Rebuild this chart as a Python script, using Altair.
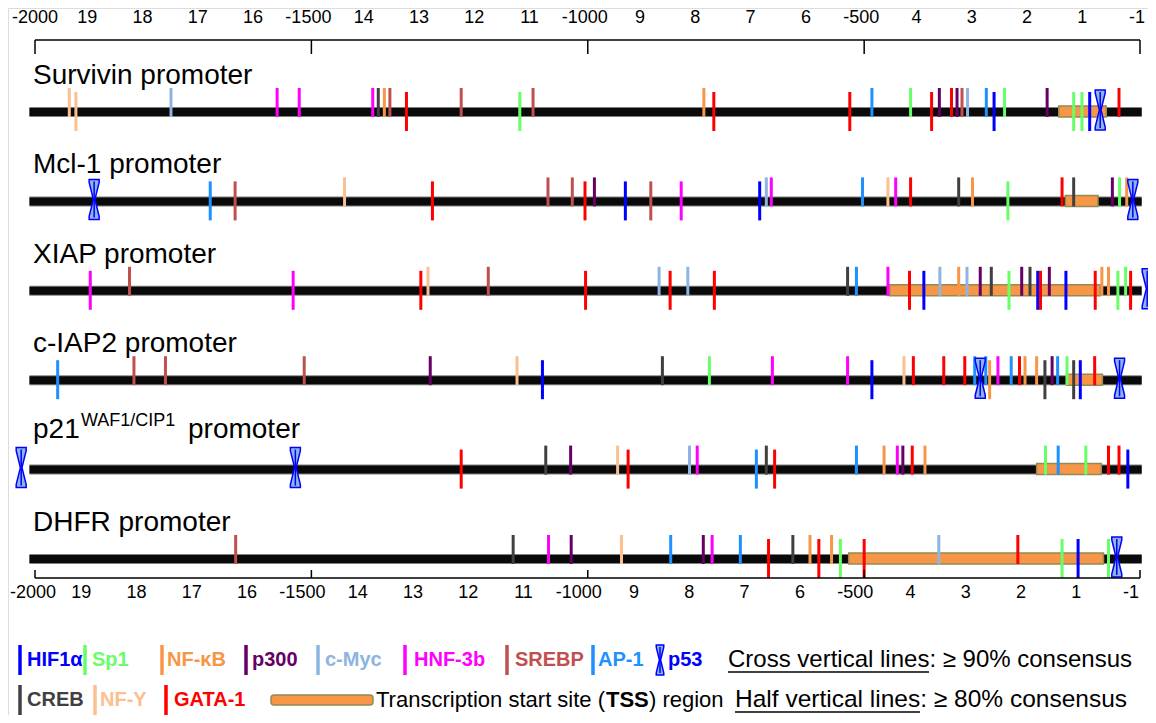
import altair as alt
import pandas as pd

# ---------------- data ----------------
TF_NAMES = ["HIF1α", "Sp1", "NF-κB", "p300", "c-Myc", "HNF-3b", "SREBP", "AP-1", "CREB", "NF-Y", "GATA-1"]
TF_COLORS = ["#0000FF", "#66FF66", "#F79646", "#660066", "#8DB4E2", "#FF00FF", "#C0504D", "#1E90FF", "#404040", "#FAC090", "#FF0000"]

PROMOTERS = ["Survivin", "Mcl-1", "XIAP", "c-IAP2", "p21", "DHFR"]
TITLES = ["Survivin promoter", "Mcl-1 promoter", "XIAP promoter", "c-IAP2 promoter", "", "DHFR promoter"]

# (factor, position bp, C = cross line >=90%, H = half line >=80%)
SURVIVIN_SITES = [("NF-Y", -1938, "H"), ("NF-Y", -1926, "C"), ("c-Myc", -1754, "H"), ("HNF-3b", -1562, "H"),
                  ("HNF-3b", -1522, "H"), ("HNF-3b", -1389, "H"), ("CREB", -1379, "H"), ("NF-κB", -1368, "H"),
                  ("SREBP", -1358, "H"), ("GATA-1", -1328, "C"), ("SREBP", -1229, "H"), ("Sp1", -1123, "C"),
                  ("SREBP", -1099, "H"), ("NF-κB", -790, "H"), ("GATA-1", -772, "C"), ("GATA-1", -526, "C"),
                  ("AP-1", -486, "H"), ("Sp1", -416, "H"), ("GATA-1", -378, "C"), ("p300", -364, "H"),
                  ("GATA-1", -342, "H"), ("p300", -332, "H"), ("SREBP", -323, "H"), ("c-Myc", -313, "H"),
                  ("AP-1", -279, "H"), ("HIF1α", -265, "C"), ("Sp1", -246, "H"), ("p300", -169, "H"),
                  ("Sp1", -121, "C"), ("Sp1", -106, "C"), ("HIF1α", -92, "C"), ("GATA-1", -39, "H")]
SURVIVIN_P53 = [-73]
SURVIVIN_TSS = (-148, -62)

MCL1_SITES = [("AP-1", -1683, "C"), ("SREBP", -1638, "C"), ("NF-Y", -1440, "H"), ("GATA-1", -1281, "C"),
              ("SREBP", -1072, "H"), ("SREBP", -1028, "H"), ("GATA-1", -1005, "C"), ("p300", -988, "H"),
              ("HIF1α", -932, "C"), ("SREBP", -886, "C"), ("HNF-3b", -831, "C"), ("HIF1α", -689, "C"),
              ("c-Myc", -677, "H"), ("HNF-3b", -668, "H"), ("AP-1", -503, "H"), ("NF-Y", -457, "H"),
              ("HNF-3b", -443, "H"), ("GATA-1", -416, "H"), ("CREB", -329, "H"), ("NF-κB", -304, "H"),
              ("Sp1", -240, "C"), ("GATA-1", -142, "H"), ("CREB", -121, "H"), ("p300", -51, "H"),
              ("Sp1", -38, "H"), ("NF-κB", -25, "H")]
MCL1_P53 = [-1893, -14]
MCL1_TSS = (-136, -77)

XIAP_SITES = [("HNF-3b", -1900, "C"), ("SREBP", -1829, "H"), ("HNF-3b", -1533, "C"), ("GATA-1", -1302, "C"),
              ("NF-Y", -1289, "H"), ("SREBP", -1180, "H"), ("GATA-1", -1004, "C"), ("c-Myc", -871, "H"),
              ("GATA-1", -851, "C"), ("c-Myc", -819, "H"), ("GATA-1", -771, "C"), ("CREB", -530, "H"),
              ("AP-1", -514, "H"), ("HNF-3b", -457, "H"), ("GATA-1", -418, "C"), ("HIF1α", -392, "C"),
              ("c-Myc", -363, "H"), ("NF-κB", -329, "H"), ("c-Myc", -314, "H"), ("p300", -290, "H"),
              ("CREB", -270, "H"), ("Sp1", -238, "C"), ("p300", -215, "H"), ("CREB", -200, "H"),
              ("HIF1α", -186, "C"), ("GATA-1", -181, "C"), ("p300", -165, "H"), ("HIF1α", -135, "C"),
              ("GATA-1", -82, "C"), ("NF-κB", -70, "H"), ("NF-κB", -58, "H"), ("Sp1", -41, "C"),
              ("Sp1", -27, "H"), ("GATA-1", -18, "C")]
XIAP_P53 = [12]
XIAP_TSS = (-454, -73)

CIAP2_SITES = [("AP-1", -1959, "C"), ("SREBP", -1821, "H"), ("SREBP", -1764, "H"), ("SREBP", -1513, "H"),
               ("p300", -1285, "H"), ("NF-Y", -1128, "H"), ("HIF1α", -1082, "C"), ("CREB", -865, "H"),
               ("Sp1", -780, "H"), ("HNF-3b", -666, "H"), ("HNF-3b", -530, "H"), ("HIF1α", -486, "C"),
               ("NF-Y", -428, "H"), ("GATA-1", -411, "H"), ("GATA-1", -356, "H"), ("GATA-1", -318, "H"),
               ("AP-1", -300, "H"), ("AP-1", -280, "H"), ("NF-κB", -273, "C"), ("HNF-3b", -258, "H"),
               ("AP-1", -234, "H"), ("GATA-1", -219, "H"), ("NF-κB", -209, "H"), ("NF-κB", -188, "H"),
               ("CREB", -173, "C"), ("p300", -160, "H"), ("AP-1", -150, "H"), ("Sp1", -133, "H"),
               ("CREB", -121, "C"), ("HIF1α", -109, "C"), ("GATA-1", -83, "H")]
CIAP2_P53 = [-290, -38]
CIAP2_TSS = (-134, -69)

P21_SITES = [("GATA-1", -1229, "C"), ("CREB", -1076, "H"), ("p300", -1031, "H"), ("NF-Y", -946, "H"),
             ("GATA-1", -927, "C"), ("c-Myc", -816, "H"), ("HNF-3b", -802, "H"), ("AP-1", -695, "C"),
             ("CREB", -677, "H"), ("GATA-1", -662, "C"), ("AP-1", -514, "H"), ("NF-κB", -464, "H"),
             ("HNF-3b", -440, "H"), ("p300", -430, "H"), ("GATA-1", -413, "H"), ("NF-κB", -390, "H"),
             ("Sp1", -172, "H"), ("AP-1", -149, "H"), ("Sp1", -99, "H"), ("GATA-1", -58, "H"),
             ("GATA-1", -39, "H"), ("HIF1α", -23, "C")]
P21_P53 = [-2025, -1529]
P21_TSS = (-188, -71)

DHFR_SITES = [("SREBP", -1637, "H"), ("CREB", -1135, "H"), ("HNF-3b", -1071, "H"), ("p300", -1030, "H"),
              ("NF-Y", -939, "H"), ("AP-1", -850, "H"), ("p300", -791, "H"), ("HNF-3b", -775, "H"),
              ("AP-1", -724, "H"), ("GATA-1", -673, "C"), ("CREB", -629, "H"), ("NF-κB", -598, "H"),
              ("GATA-1", -582, "C"), ("NF-κB", -559, "H"), ("Sp1", -543, "C"), ("GATA-1", -500, "C"),
              ("c-Myc", -365, "H"), ("GATA-1", -222, "H"), ("Sp1", -142, "C"), ("HIF1α", -113, "C"),
              ("Sp1", -58, "C")]
DHFR_P53 = [-43]
DHFR_TSS = (-528, -67)

BACKBONE = (-2010, 2)

AXIS_POS = [-2000, -1900, -1800, -1700, -1600, -1500, -1400, -1300, -1200, -1100, -1000,
            -900, -800, -700, -600, -500, -400, -300, -200, -100, -1]
AXIS_LABELS = ["-2000", "19", "18", "17", "16", "-1500", "14", "13", "12", "11", "-1000",
               "9", "8", "7", "6", "-500", "4", "3", "2", "1", "-1"]
AXIS_MAJOR = [-2000, -1500, -1000, -500, -1]

LEGEND_ROW1 = ["HIF1α", "Sp1", "NF-κB", "p300", "c-Myc", "HNF-3b", "SREBP", "AP-1"]
LEGEND_ROW2 = ["CREB", "NF-Y", "GATA-1"]

# ---------------- layout (pixels) ----------------
LEG1_TICK_X = [12, 77, 154, 238, 310, 397, 499, 585]
LEG1_TEXT_X = [19, 84, 159, 244, 317, 406, 507, 590]
LEG2_TICK_X = [12, 87, 158]
LEG2_TEXT_X = [19, 92, 166]
LEG1_Y, LEG2_Y = 652, 692

FONT = "Liberation Sans"

# ---------------- frames ----------------
all_sites = [SURVIVIN_SITES, MCL1_SITES, XIAP_SITES, CIAP2_SITES, P21_SITES, DHFR_SITES]
all_p53 = [SURVIVIN_P53, MCL1_P53, XIAP_P53, CIAP2_P53, P21_P53, DHFR_P53]
all_tss = [SURVIVIN_TSS, MCL1_TSS, XIAP_TSS, CIAP2_TSS, P21_TSS, DHFR_TSS]

sites_df = pd.DataFrame([dict(row=i, promoter=PROMOTERS[i], tf=t, pos=p, kind=k)
                         for i, s in enumerate(all_sites) for (t, p, k) in s])
p53_df = pd.DataFrame([dict(row=i, pos=p) for i, s in enumerate(all_p53) for p in s])
tss_df = pd.DataFrame([dict(row=i, start=a, end=b) for i, (a, b) in enumerate(all_tss)])
back_df = pd.DataFrame(dict(row=list(range(6)), start=BACKBONE[0], end=BACKBONE[1]))
title_df = pd.DataFrame(dict(row=list(range(6)), title=TITLES))
title_df = title_df[title_df.title != ""]
axis_df = pd.DataFrame(dict(pos=AXIS_POS, label=AXIS_LABELS))
axis_line_df = pd.DataFrame(dict(start=[AXIS_POS[0]], end=[AXIS_POS[-1]]))
major_df = pd.DataFrame(dict(pos=AXIS_MAJOR))

leg_df = pd.DataFrame(
    [dict(tf=t, tx=a, lx=b, ly=LEG1_Y) for t, a, b in zip(LEGEND_ROW1, LEG1_TICK_X, LEG1_TEXT_X)] +
    [dict(tf=t, tx=a, lx=b, ly=LEG2_Y) for t, a, b in zip(LEGEND_ROW2, LEG2_TICK_X, LEG2_TEXT_X)])

XS = alt.Scale(domain=[-2000, -1], range=[27, 1132])
YS = alt.Scale(domain=[0, 5], range=[104, 551])
CS = alt.Scale(domain=TF_NAMES, range=TF_COLORS)

x_pos = alt.X("pos:Q", scale=XS, axis=None)
y_row = alt.Y("row:Q", scale=YS, axis=None)

backbone_edge = alt.Chart(back_df).mark_rule(strokeWidth=10, color="#7f7f7f", strokeCap="butt").encode(
    x=alt.X("start:Q", scale=XS, axis=None), x2="end:Q", y=y_row)
backbone = alt.Chart(back_df).mark_rule(strokeWidth=8, color="#0a0a0a", strokeCap="butt").encode(
    x=alt.X("start:Q", scale=XS, axis=None), x2="end:Q", y=y_row)

tss = alt.Chart(tss_df).mark_rect(fill="#F79646", stroke="#948A54", strokeWidth=1.5,
                                  yOffset=-6, y2Offset=5).encode(
    x=alt.X("start:Q", scale=XS, axis=None), x2="end:Q", y=y_row, y2="row:Q")

cross = alt.Chart(sites_df[sites_df.kind == "C"]).mark_rule(strokeWidth=3, yOffset=-20, y2Offset=19).encode(
    x=x_pos, y=y_row, y2="row:Q", color=alt.Color("tf:N", scale=CS, legend=None))
half = alt.Chart(sites_df[sites_df.kind == "H"]).mark_rule(strokeWidth=3, yOffset=-24, y2Offset=5).encode(
    x=x_pos, y=y_row, y2="row:Q", color=alt.Color("tf:N", scale=CS, legend=None))

BOWTIE = ("M-0.25,-1 L0.25,-1 L0.25,-0.85 L0.04,0 L0.25,0.85 L0.25,1 L-0.25,1 "
          "L-0.25,0.85 L-0.04,0 L-0.25,-0.85 Z")
p53 = alt.Chart(p53_df).mark_point(shape=BOWTIE, size=1600, filled=True, fill="#8DB4E2", fillOpacity=1,
                                   stroke="#0000FF", strokeWidth=1.5, opacity=1, yOffset=-2).encode(
    x=x_pos, y=y_row)
p53_core = alt.Chart(p53_df).mark_rule(strokeWidth=1.5, color="#0000FF", yOffset=-20, y2Offset=16).encode(
    x=x_pos, y=y_row, y2="row:Q")

titles = alt.Chart(title_df).mark_text(align="left", baseline="alphabetic", fontSize=28, font=FONT,
                                       dy=-28, color="black").encode(
    x=alt.value(25), y=y_row, text="title:N")
p21_row = pd.DataFrame(dict(row=[4]))
p21_a = alt.Chart(p21_row).mark_text(align="left", baseline="alphabetic", fontSize=28, font=FONT,
                                     dy=-32, text="p21").encode(x=alt.value(25), y=y_row)
p21_b = alt.Chart(p21_row).mark_text(align="left", baseline="alphabetic", fontSize=18, font=FONT,
                                     dy=-44, text="WAF1/CIP1").encode(x=alt.value(73), y=y_row)
p21_c = alt.Chart(p21_row).mark_text(align="left", baseline="alphabetic", fontSize=28, font=FONT,
                                     dy=-32, text="promoter").encode(x=alt.value(180), y=y_row)


# axes (top and bottom)
def axis_layers(line_y, label_y, tick_dir, label_dx, first_dx):
    line = alt.Chart(axis_line_df).mark_rule(strokeWidth=1.5, color="black").encode(
        x=alt.X("start:Q", scale=XS, axis=None), x2="end:Q", y=alt.value(line_y))
    ticks = alt.Chart(major_df).mark_rule(strokeWidth=1.5, color="black").encode(
        x=x_pos, y=alt.value(line_y), y2=alt.value(line_y + tick_dir))
    labels = alt.Chart(axis_df.iloc[1:]).mark_text(fontSize=18, font=FONT, baseline="middle", color="black",
                                                   dx=label_dx).encode(
        x=x_pos, y=alt.value(label_y), text="label:N")
    first = alt.Chart(axis_df.iloc[:1]).mark_text(fontSize=18, font=FONT, baseline="middle", color="black",
                                                  dx=first_dx).encode(
        x=x_pos, y=alt.value(label_y), text="label:N")
    return [line, ticks, labels, first]


top_axis = axis_layers(32, 10, 14, -3, 0)
bottom_axis = axis_layers(570, 585, -8, -9, -2)

# legend
leg_tick = alt.Chart(leg_df).mark_rule(strokeWidth=3.5, yOffset=-15, y2Offset=15).encode(
    x=alt.X("tx:Q", scale=None), y=alt.Y("ly:Q", scale=None), y2="ly:Q",
    color=alt.Color("tf:N", scale=CS, legend=None))
leg_text = alt.Chart(leg_df).mark_text(align="left", baseline="middle", fontSize=20, fontWeight="bold",
                                       font=FONT).encode(
    x=alt.X("lx:Q", scale=None), y=alt.Y("ly:Q", scale=None), text="tf:N",
    color=alt.Color("tf:N", scale=CS, legend=None))

one = pd.DataFrame(dict(a=[0]))
leg_p53 = alt.Chart(one).mark_point(
    shape=BOWTIE, size=900, filled=True, fill="#8DB4E2", fillOpacity=1, stroke="#0000FF",
    strokeWidth=1.5, opacity=1).encode(x=alt.value(652), y=alt.value(LEG1_Y))
leg_p53_core = alt.Chart(one).mark_rule(strokeWidth=1.5, color="#0000FF").encode(
    x=alt.value(652), y=alt.value(LEG1_Y - 13), y2=alt.value(LEG1_Y + 13))
leg_p53_t = alt.Chart(one).mark_text(
    align="left", baseline="middle", fontSize=20, fontWeight="bold", font=FONT, color="#0000FF",
    text="p53").encode(x=alt.value(660), y=alt.value(LEG1_Y))

leg_tss = alt.Chart(one).mark_rect(
    fill="#F79646", stroke="#948A54", strokeWidth=1.5, cornerRadius=3).encode(
    x=alt.value(263), x2=alt.value(365), y=alt.value(LEG2_Y - 5), y2=alt.value(LEG2_Y + 5))


def txt(s, x, y, size=18, weight="normal", color="black"):
    return alt.Chart(one).mark_text(
        align="left", baseline="middle", fontSize=size, fontWeight=weight, font=FONT, color=color,
        text=s).encode(x=alt.value(x), y=alt.value(y))


def uline(x1, x2, y):
    return alt.Chart(one).mark_rule(strokeWidth=1.3, color="black").encode(
        x=alt.value(x1), x2=alt.value(x2), y=alt.value(y))


legend_text = [
    txt("Transcription start site (", 368, LEG2_Y, 22),
    txt("TSS", 598, LEG2_Y, 22, "bold"),
    txt(") region", 641, LEG2_Y, 22),
    txt("Cross vertical lines: ≥ 90% consensus", 720, LEG1_Y, 24),
    uline(720, 921, LEG1_Y + 12),
    txt("Half vertical lines: ≥ 80% consensus", 727, LEG2_Y, 24.5),
    uline(727, 912, LEG2_Y + 12),
]

chart = alt.layer(
    backbone_edge, backbone, tss, half, cross, p53, p53_core, titles, p21_a, p21_b, p21_c,
    *top_axis, *bottom_axis,
    leg_tick, leg_text, leg_p53, leg_p53_core, leg_p53_t, leg_tss, *legend_text
).properties(
    width=1140, height=707, padding=0,
    autosize=alt.AutoSizeParams(type="none")
).configure_view(stroke=None).configure(font=FONT)

chart.save("out.html", embed_options={"renderer": "svg", "actions": False})
